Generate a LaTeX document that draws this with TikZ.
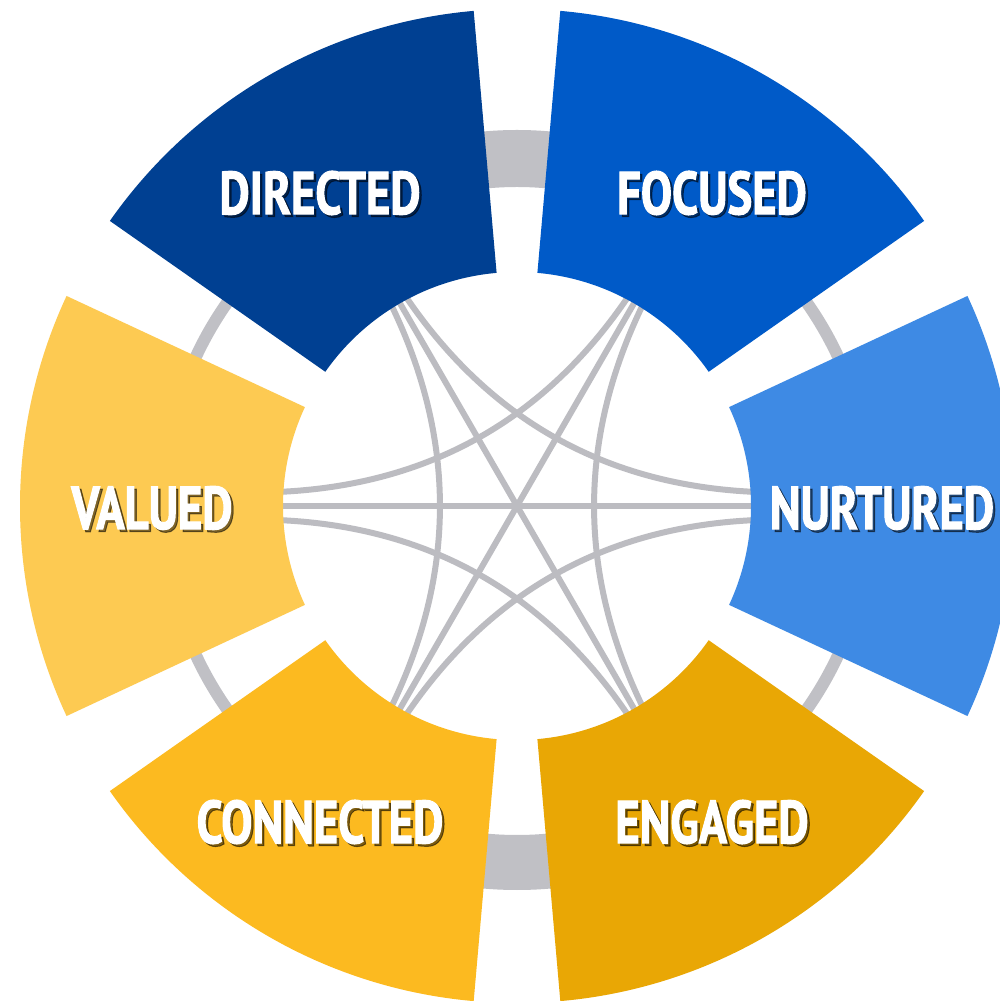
\documentclass[tikz,border=0pt]{standalone}
\usepackage{fontspec}
\newfontfamily\lblfont{PT Sans}[FakeStretch=0.77,FakeBold=1.6]
\usetikzlibrary{calc}
\definecolor{cDir}{RGB}{0,64,146}
\definecolor{cFoc}{RGB}{0,90,200}
\definecolor{cNur}{RGB}{62,138,228}
\definecolor{cEng}{RGB}{233,167,5}
\definecolor{cCon}{RGB}{252,186,32}
\definecolor{cVal}{RGB}{253,202,82}
\definecolor{ringgray}{RGB}{192,192,197}
\definecolor{linkgray}{RGB}{188,188,193}
\newcommand\ringseg[2]{%
  \fill[#1] (#2-25:234) arc[start angle=#2-25, end angle=#2+25, radius=234]
    -- (#2+25:497) arc[start angle=#2+25, end angle=#2-25, radius=497] -- cycle;}
\newcommand\seglabel[3]{%
  \node[lblshadow] (#1s) at ($(#2)+(2.5,-2.5)$) {#3};
  \node[lbl] (#1) at (#2) {#3};}
\newcommand\curvelink[3]{%
  \draw[link] (#1) .. controls ($(#1)!2/3!(#3)$) and ($(#2)!2/3!(#3)$) .. (#2);}
\begin{document}
\begin{tikzpicture}[x=0.2mm,y=0.2mm,
  lbl/.style={text=white, inner sep=0pt, font=\lblfont\bfseries\fontsize{34.5}{40}\selectfont},
  lblshadow/.style={text=black, text opacity=0.5, inner sep=0pt, font=\lblfont\bfseries\fontsize{34.5}{40}\selectfont},
  link/.style={draw=linkgray, line width=1.2mm},
  ringline/.style={draw=ringgray, line width=2.4mm}]
\useasboundingbox (0,0) rectangle (1000,1001);
\clip (0,0) rectangle (1000,1001);
\fill[white] (0,0) rectangle (1000,1001);
\begin{scope}[shift={(517,495)}]
  % grey ring
  \draw[ringline] (0,0) circle[radius=354];
  \fill[ringgray] (80:319) arc[start angle=80, end angle=100, radius=319]
    -- (100:376) arc[start angle=100, end angle=80, radius=376] -- cycle;
  \fill[ringgray] (260:329) arc[start angle=260, end angle=280, radius=329]
    -- (280:384) arc[start angle=280, end angle=260, radius=384] -- cycle;
  % link end points
  \coordinate (Np) at (3.4:238);  \coordinate (Nz) at (0:238);   \coordinate (Nm) at (-3.4:238);
  \coordinate (Fp) at (62:238);   \coordinate (Fz) at (60:238);  \coordinate (Fm) at (58:238);
  \coordinate (Dp) at (122:238);  \coordinate (Dz) at (120:238); \coordinate (Dm) at (118:238);
  \coordinate (Vp) at (183.4:238);\coordinate (Vz) at (180:238); \coordinate (Vm) at (176.6:238);
  \coordinate (Cp) at (242:238);  \coordinate (Cz) at (240:238); \coordinate (Cm) at (238:238);
  \coordinate (Ep) at (302:238);  \coordinate (Ez) at (300:238); \coordinate (Em) at (298:238);
  % control points
  \coordinate (k0) at (0:28);     \coordinate (k60) at (60:28);  \coordinate (k120) at (120:28);
  \coordinate (k180) at (180:28); \coordinate (k240) at (240:28);\coordinate (k300) at (300:28);
  % straight links
  \draw[link] (Dz) -- (Ez);
  \draw[link] (Fz) -- (Cz);
  \draw[link] (Vz) -- (Nz);
  % curved links
  \curvelink{Np}{Dm}{k60}
  \curvelink{Fp}{Vm}{k120}
  \curvelink{Dp}{Cm}{k180}
  \curvelink{Vp}{Em}{k240}
  \curvelink{Cp}{Nm}{k300}
  \curvelink{Ep}{Fm}{k0}
  % segments
  \ringseg{cNur}{0}
  \ringseg{cFoc}{60}
  \ringseg{cDir}{120}
  \ringseg{cVal}{180}
  \ringseg{cCon}{240}
  \ringseg{cEng}{300}
\end{scope}
\seglabel{tDir}{320,808}{DIRECTED}
\seglabel{tFoc}{712,808}{FOCUSED}
\seglabel{tNur}{882,493}{NURTURED}
\seglabel{tVal}{152,493}{VALUED}
\seglabel{tCon}{320,179}{CONNECTED}
\seglabel{tEng}{712,179}{ENGAGED}
\end{tikzpicture}
\end{document}
